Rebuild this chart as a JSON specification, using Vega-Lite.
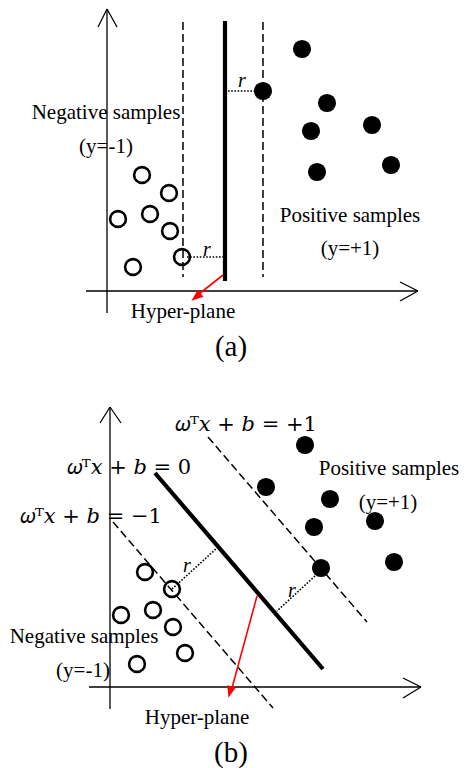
{
  "$schema": "https://vega.github.io/schema/vega-lite/v6.json",
  "width": 465,
  "height": 768,
  "padding": 0,
  "autosize": {"type": "none"},
  "background": "white",
  "config": {"view": {"stroke": null}},
  "datasets": {
    "axes": [
      {"x": 107, "y": 313, "x2": 107, "y2": 9},
      {"x": 98, "y": 27, "x2": 107, "y2": 9},
      {"x": 117, "y": 27, "x2": 107, "y2": 9},
      {"x": 86, "y": 291, "x2": 418, "y2": 291},
      {"x": 400, "y": 282, "x2": 418, "y2": 291},
      {"x": 400, "y": 301, "x2": 418, "y2": 291},
      {"x": 110, "y": 709, "x2": 110, "y2": 407},
      {"x": 100, "y": 423, "x2": 110, "y2": 407},
      {"x": 121, "y": 423, "x2": 110, "y2": 407},
      {"x": 89, "y": 687, "x2": 421, "y2": 687},
      {"x": 403, "y": 678, "x2": 421, "y2": 687},
      {"x": 403, "y": 698, "x2": 421, "y2": 687}
    ],
    "dashed": [
      {"x": 183, "y": 22, "x2": 183, "y2": 277},
      {"x": 263, "y": 22, "x2": 263, "y2": 277},
      {"x": 208, "y": 437, "x2": 367, "y2": 622},
      {"x": 113, "y": 522, "x2": 273, "y2": 708}
    ],
    "solid": [
      {"x": 225, "y": 21, "x2": 225, "y2": 281},
      {"x": 155, "y": 473, "x2": 323, "y2": 669}
    ],
    "dotted": [
      {"x": 228, "y": 91, "x2": 256, "y2": 91},
      {"x": 187, "y": 257, "x2": 223, "y2": 257},
      {"x": 172, "y": 589, "x2": 217, "y2": 548},
      {"x": 315, "y": 576, "x2": 277, "y2": 611}
    ],
    "arrow": [
      {"x": 223, "y": 275, "x2": 199, "y2": 294},
      {"x": 257, "y": 596, "x2": 232, "y2": 688}
    ],
    "headA": [{"x": 196, "y": 297}],
    "headB": [{"x": 230, "y": 692}],
    "pos": [
      {"x": 302, "y": 49}, {"x": 263, "y": 91}, {"x": 327, "y": 103},
      {"x": 311, "y": 131}, {"x": 372, "y": 125}, {"x": 317, "y": 172},
      {"x": 391, "y": 165},
      {"x": 305, "y": 445}, {"x": 266, "y": 487}, {"x": 330, "y": 499},
      {"x": 314, "y": 527}, {"x": 375, "y": 521}, {"x": 321, "y": 568},
      {"x": 394, "y": 562}
    ],
    "neg": [
      {"x": 142, "y": 175}, {"x": 169, "y": 193}, {"x": 118, "y": 219},
      {"x": 150, "y": 214}, {"x": 170, "y": 231}, {"x": 182, "y": 257},
      {"x": 133, "y": 267},
      {"x": 145, "y": 572}, {"x": 172, "y": 589}, {"x": 121, "y": 615},
      {"x": 153, "y": 610}, {"x": 173, "y": 627}, {"x": 185, "y": 653},
      {"x": 137, "y": 664}
    ],
    "labels": [
      {"x": 106, "y": 113, "text": "Negative samples"},
      {"x": 106, "y": 147, "text": "(y=-1)"},
      {"x": 350, "y": 216, "text": "Positive samples"},
      {"x": 350, "y": 249, "text": "(y=+1)"},
      {"x": 183, "y": 312, "text": "Hyper-plane"},
      {"x": 389, "y": 469, "text": "Positive samples"},
      {"x": 388, "y": 503, "text": "(y=+1)"},
      {"x": 84, "y": 637, "text": "Negative samples"},
      {"x": 83, "y": 671, "text": "(y=-1)"},
      {"x": 197, "y": 718, "text": "Hyper-plane"}
    ],
    "captions": [
      {"x": 231, "y": 347, "text": "(a)"},
      {"x": 231, "y": 753, "text": "(b)"}
    ],
    "rlabels": [
      {"x": 242, "y": 81, "text": "r"},
      {"x": 207, "y": 250, "text": "r"},
      {"x": 187, "y": 566, "text": "r"},
      {"x": 292, "y": 591, "text": "r"}
    ],
    "math": [
      {"x": 246, "y": 425, "text": "𝜔ᵀ𝑥 + 𝑏 = +1"},
      {"x": 129, "y": 468, "text": "𝜔ᵀ𝑥 + 𝑏 = 0"},
      {"x": 91, "y": 517, "text": "𝜔ᵀ𝑥 + 𝑏 = −1"}
    ]
  },
  "encoding": {
    "x": {"field": "x", "type": "quantitative", "axis": null, "scale": {"domain": [0, 465], "nice": false, "zero": false}},
    "y": {"field": "y", "type": "quantitative", "axis": null, "scale": {"domain": [0, 768], "nice": false, "zero": false, "reverse": true}}
  },
  "layer": [
    {"data": {"name": "axes"}, "mark": {"type": "rule", "color": "black", "strokeWidth": 1.3},
     "encoding": {"x2": {"field": "x2"}, "y2": {"field": "y2"}}},
    {"data": {"name": "dashed"}, "mark": {"type": "rule", "color": "black", "strokeWidth": 1.5, "strokeDash": [8, 4]},
     "encoding": {"x2": {"field": "x2"}, "y2": {"field": "y2"}}},
    {"data": {"name": "solid"}, "mark": {"type": "rule", "color": "black", "strokeWidth": 4.2},
     "encoding": {"x2": {"field": "x2"}, "y2": {"field": "y2"}}},
    {"data": {"name": "dotted"}, "mark": {"type": "rule", "color": "black", "strokeWidth": 1.6, "strokeDash": [1.6, 1.6]},
     "encoding": {"x2": {"field": "x2"}, "y2": {"field": "y2"}}},
    {"data": {"name": "arrow"}, "mark": {"type": "rule", "color": "#ff0000", "strokeWidth": 1.6},
     "encoding": {"x2": {"field": "x2"}, "y2": {"field": "y2"}}},
    {"data": {"name": "headA"}, "mark": {"type": "point", "shape": "M0,-1L0.75,1L-0.75,1Z", "filled": true, "color": "#ff0000", "size": 140, "angle": 231, "opacity": 1}},
    {"data": {"name": "headB"}, "mark": {"type": "point", "shape": "M0,-1L0.75,1L-0.75,1Z", "filled": true, "color": "#ff0000", "size": 140, "angle": 195, "opacity": 1}},
    {"data": {"name": "pos"}, "mark": {"type": "point", "shape": "circle", "filled": true, "color": "black", "size": 330, "opacity": 1}},
    {"data": {"name": "neg"}, "mark": {"type": "point", "shape": "circle", "filled": false, "color": "black", "size": 250, "strokeWidth": 2.6, "opacity": 1}},
    {"data": {"name": "labels"}, "mark": {"type": "text", "font": "Liberation Serif", "fontSize": 21, "align": "center", "baseline": "middle", "color": "black"},
     "encoding": {"text": {"field": "text"}}},
    {"data": {"name": "captions"}, "mark": {"type": "text", "font": "Liberation Serif", "fontSize": 29, "align": "center", "baseline": "middle", "color": "black"},
     "encoding": {"text": {"field": "text"}}},
    {"data": {"name": "rlabels"}, "mark": {"type": "text", "font": "Liberation Serif", "fontStyle": "italic", "fontSize": 20, "align": "center", "baseline": "middle", "color": "black"},
     "encoding": {"text": {"field": "text"}}},
    {"data": {"name": "math"}, "mark": {"type": "text", "font": "DejaVu Serif", "fontSize": 21, "align": "center", "baseline": "middle", "color": "black"},
     "encoding": {"text": {"field": "text"}}}
  ]
}
